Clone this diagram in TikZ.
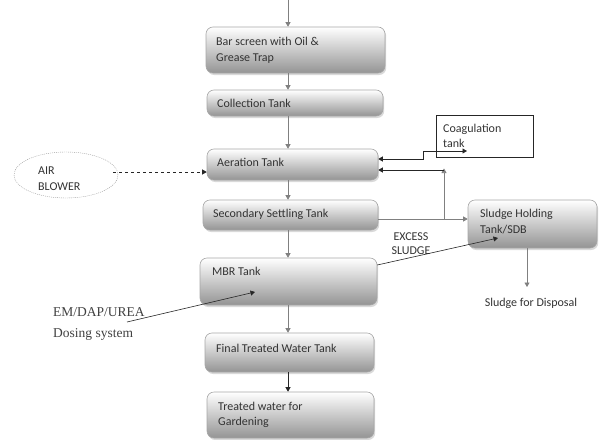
\documentclass[tikz,border=0pt]{standalone}
\usepackage{fontspec}
\setmainfont{Carlito}
\newfontfamily\seriffont{Liberation Serif}
\usetikzlibrary{arrows.meta,shadows,shapes.geometric}
\begin{document}
\begin{tikzpicture}[x=1pt,y=-1pt,
  tank/.style={draw=black!35, line width=0.6pt, rounded corners=7pt, top color=white, bottom color=black!42,
    drop shadow={opacity=0.3,shadow xshift=1.2pt,shadow yshift=-2pt}, inner sep=0pt},
  lbl/.style={anchor=west, font=\fontsize{12}{16}\selectfont, text=black!80, align=left, inner sep=0pt},
  flow/.style={draw=black!50, line width=0.7pt, -{Triangle[width=5pt,length=4.5pt]}},
  bflow/.style={draw=black!85, line width=0.6pt, -{Triangle[width=5pt,length=4.5pt]}},
  stxt/.style={anchor=west, font=\seriffont\fontsize{13.5}{16}\selectfont, text=black!75, inner sep=0pt}]
\useasboundingbox (0,0) rectangle (602,439);
% tanks
\node[tank, minimum width=179pt, minimum height=46pt] (bar) at (295.5,50) {};
\node[tank, minimum width=176pt, minimum height=26pt] (coll) at (295,103) {};
\node[tank, minimum width=171pt, minimum height=31pt] (aer) at (292.5,164.5) {};
\node[tank, minimum width=175pt, minimum height=30pt] (sec) at (290.5,215) {};
\node[tank, minimum width=177pt, minimum height=47pt] (mbr) at (288.5,281.5) {};
\node[tank, minimum width=169pt, minimum height=39pt] (fin) at (289.5,352.5) {};
\node[tank, minimum width=167pt, minimum height=46pt] (trt) at (290.5,415) {};
\node[tank, minimum width=129pt, minimum height=48pt] (sludge) at (532.5,224) {};
\node[draw=black!85, line width=0.7pt, minimum width=97pt, minimum height=42pt, inner sep=0pt] (coag) at (484.5,136) {};
\node[ellipse, draw=black!40, dash pattern=on 1pt off 1pt, minimum width=104pt, minimum height=46pt, inner sep=0pt] (air) at (66,175) {};
% labels
\node[lbl] (tbar) at (216,50) {Bar screen with Oil \&\\Grease Trap};
\node[lbl] (tcoll) at (217,103) {Collection Tank};
\node[lbl] (taer) at (217,162) {Aeration Tank};
\node[lbl] (tsec) at (213,214) {Secondary Settling Tank};
\node[lbl] (tmbr) at (212,271) {MBR Tank};
\node[lbl] (tfin) at (216,348) {Final Treated Water Tank};
\node[lbl, font=\fontsize{12}{15}\selectfont] (ttrt) at (218,415) {Treated water for\\Gardening};
\node[lbl] (tsludge) at (480,222) {Sludge Holding\\Tank/SDB};
\node[lbl, font=\fontsize{12}{15}\selectfont] (tcoag) at (443,135.5) {Coagulation\\tank};
\node[lbl] (tair) at (38,179) {AIR\\BLOWER};
\node[lbl, anchor=center, align=center, font=\fontsize{12}{14}\selectfont] (texc) at (411,244) {EXCESS\\SLUDGE};
\node[lbl, anchor=center] (disp) at (531,303) {Sludge for Disposal};
\node[stxt] (em) at (53,312) {EM/DAP/UREA};
\node[stxt] (dos) at (53,334) {Dosing system};
% main flow
\coordinate (in) at (288,0);
\draw[flow] (in) -- (in |- bar.north);
\draw[flow] (bar.south -| in) -- (coll.north -| in);
\draw[flow] (coll.south -| in) -- (aer.north -| in);
\draw[flow] (aer.south -| in) -- (sec.north -| in);
\draw[flow] (sec.south -| in) -- (mbr.north -| in);
\draw[flow] (mbr.south -| in) -- (fin.north -| in);
\draw[bflow] (fin.south -| in) -- (trt.north -| in);
% air blower
\coordinate (ay) at (113,172);
\draw[bflow, dashed] (ay) -- (aer.west |- ay);
% coagulation link
\coordinate (c1) at (423,159);
\coordinate (c2) at (467,151);
\draw[bflow, {Triangle[width=5pt,length=4.5pt]}-{Triangle[width=5pt,length=4.5pt]}] (aer.east |- c1) -- (c1) |- (c2);
% secondary -> sludge and recycle
\coordinate (r) at (444,219);
\coordinate (rt) at (444,170);
\draw[flow] (sec.east |- r) -- (sludge.west |- r);
\draw[flow] (r) -- ([yshift=1.5pt]rt);
\draw[bflow] (rt) -- (aer.east |- rt);
% MBR -> sludge
\coordinate (ms) at (498,238);
\draw[bflow] (mbr.east |- 0,265) -- (ms);
% dosing
\coordinate (d0) at (127,322);
\coordinate (d1) at (255,292);
\draw[bflow] (d0) -- (d1);
% disposal
\coordinate (dx) at (527,287);
\draw[flow] (sludge.south -| dx) -- (dx);
\end{tikzpicture}
\end{document}
